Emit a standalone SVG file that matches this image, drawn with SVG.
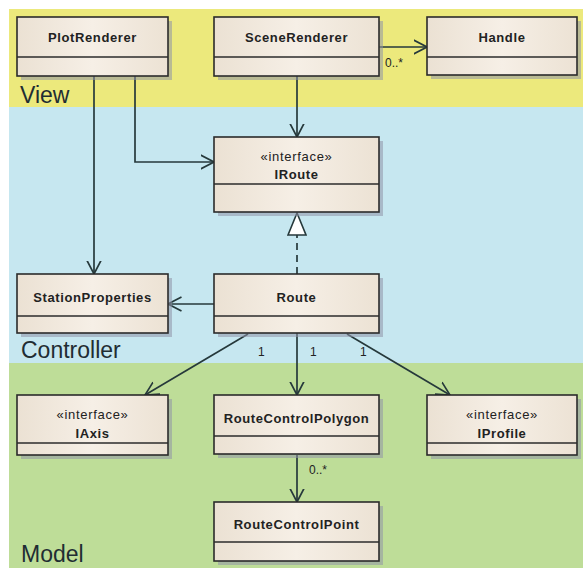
<svg xmlns="http://www.w3.org/2000/svg" width="583" height="568" viewBox="0 0 583 568">
  <style>
    .box { fill: url(#boxFill); stroke: #2b2b2b; stroke-width: 1.6; }
    .shadow { fill: #8f93a8; opacity: 0.55; }
    .div { stroke: #2b2b2b; stroke-width: 1.4; }
    .name { font-family: "Liberation Sans", Arial, sans-serif; font-weight: bold; font-size: 13px; fill: #222; text-anchor: middle; letter-spacing: 0.6px; }
    .stereo { font-family: "Liberation Sans", Arial, sans-serif; font-size: 13px; fill: #222; text-anchor: middle; letter-spacing: 0.7px; }
    .layer { font-family: "Liberation Sans", Arial, sans-serif; font-size: 23px; fill: #1f2d33; }
    .mult { font-family: "Liberation Sans", Arial, sans-serif; font-size: 12px; fill: #222; }
    .edge { stroke: #26393b; stroke-width: 1.7; fill: none; }
  </style>
  <defs>
    <linearGradient id="boxFill" x1="0" y1="0" x2="1" y2="0">
      <stop offset="0" stop-color="#ebe1d3"/>
      <stop offset="0.5" stop-color="#f6efe6"/>
      <stop offset="1" stop-color="#ece2d4"/>
    </linearGradient>
    <marker id="open" viewBox="0 0 14 16" markerWidth="14" markerHeight="16" refX="13.5" refY="8" orient="auto" markerUnits="userSpaceOnUse">
      <path d="M0,1 L13.5,8 L0,15" fill="none" stroke="#26393b" stroke-width="1.7"/>
    </marker>
    <marker id="realize" viewBox="0 0 24 20" markerWidth="24" markerHeight="20" refX="23" refY="10" orient="auto" markerUnits="userSpaceOnUse">
      <path d="M1,1 L23,10 L1,19 Z" fill="#ffffff" stroke="#26393b" stroke-width="1.6"/>
    </marker>
  </defs>

  <!-- layer bands -->
  <rect x="0" y="0" width="583" height="568" fill="#ffffff"/>
  <rect x="9" y="9" width="574" height="98" fill="#ece97c"/>
  <rect x="9" y="107" width="574" height="256" fill="#c6e7f0"/>
  <rect x="9" y="363" width="574" height="205" fill="#bedd98"/>
  <text class="layer" x="20" y="103">View</text>
  <text class="layer" x="21" y="358">Controller</text>
  <text class="layer" x="21" y="562">Model</text>

  <!-- connectors -->
  <g id="connectors">
    <path class="edge" d="M94,76 V274" marker-end="url(#open)"/>
    <path class="edge" d="M135,76 V162 H214" marker-end="url(#open)"/>
    <path class="edge" d="M379,47 H427" marker-end="url(#open)"/>
    <text class="mult" x="385" y="67">0..*</text>
    <path class="edge" d="M297,76 V137" marker-end="url(#open)"/>
    <path class="edge" d="M297,274 V213" stroke-dasharray="7,5" marker-end="url(#realize)"/>
    <path class="edge" d="M214,304 H168" marker-end="url(#open)"/>
    <path class="edge" d="M248,334 L145,395" marker-end="url(#open)"/>
    <text class="mult" x="258" y="356">1</text>
    <path class="edge" d="M297,333 V395" marker-end="url(#open)"/>
    <text class="mult" x="310" y="356">1</text>
    <path class="edge" d="M347,334 L450,395" marker-end="url(#open)"/>
    <text class="mult" x="360" y="356">1</text>
    <path class="edge" d="M297,455 V502" marker-end="url(#open)"/>
    <text class="mult" x="309" y="474">0..*</text>
  </g>

  <!-- classes -->
  <g id="PlotRenderer">
    <rect class="shadow" x="21" y="21" width="151" height="59"/>
    <rect class="box" x="17" y="17" width="151" height="59"/>
    <line class="div" x1="17" y1="57" x2="168" y2="57"/>
    <text class="name" x="92.5" y="42">PlotRenderer</text>
  </g>
  <g id="SceneRenderer">
    <rect class="shadow" x="218" y="21" width="165" height="59"/>
    <rect class="box" x="214" y="17" width="165" height="59"/>
    <line class="div" x1="214" y1="57" x2="379" y2="57"/>
    <text class="name" x="296.5" y="42">SceneRenderer</text>
  </g>
  <g id="Handle">
    <rect class="shadow" x="431" y="21" width="150" height="58"/>
    <rect class="box" x="427" y="17" width="150" height="58"/>
    <line class="div" x1="427" y1="57" x2="577" y2="57"/>
    <text class="name" x="502" y="42">Handle</text>
  </g>
  <g id="IRoute">
    <rect class="shadow" x="218" y="141" width="165" height="75"/>
    <rect class="box" x="214" y="137" width="165" height="75"/>
    <line class="div" x1="214" y1="184" x2="379" y2="184"/>
    <text class="stereo" x="296.5" y="161">«interface»</text>
    <text class="name" x="296.5" y="179">IRoute</text>
  </g>
  <g id="StationProperties">
    <rect class="shadow" x="21" y="278" width="151" height="59"/>
    <rect class="box" x="17" y="274" width="151" height="59"/>
    <line class="div" x1="17" y1="316" x2="168" y2="316"/>
    <text class="name" x="92.5" y="302">StationProperties</text>
  </g>
  <g id="Route">
    <rect class="shadow" x="218" y="278" width="165" height="59"/>
    <rect class="box" x="214" y="274" width="165" height="59"/>
    <line class="div" x1="214" y1="316" x2="379" y2="316"/>
    <text class="name" x="296.5" y="302">Route</text>
  </g>
  <g id="IAxis">
    <rect class="shadow" x="21" y="399" width="151" height="60"/>
    <rect class="box" x="17" y="395" width="151" height="60"/>
    <line class="div" x1="17" y1="443" x2="168" y2="443"/>
    <text class="stereo" x="92.5" y="419">«interface»</text>
    <text class="name" x="92.5" y="438">IAxis</text>
  </g>
  <g id="RouteControlPolygon">
    <rect class="shadow" x="218" y="399" width="165" height="59"/>
    <rect class="box" x="214" y="395" width="165" height="59"/>
    <line class="div" x1="214" y1="436" x2="379" y2="436"/>
    <text class="name" x="296.5" y="423">RouteControlPolygon</text>
  </g>
  <g id="IProfile">
    <rect class="shadow" x="431" y="399" width="150" height="60"/>
    <rect class="box" x="427" y="395" width="150" height="60"/>
    <line class="div" x1="427" y1="443" x2="577" y2="443"/>
    <text class="stereo" x="502" y="419">«interface»</text>
    <text class="name" x="502" y="438">IProfile</text>
  </g>
  <g id="RouteControlPoint">
    <rect class="shadow" x="218" y="506" width="165" height="59"/>
    <rect class="box" x="214" y="502" width="165" height="59"/>
    <line class="div" x1="214" y1="542" x2="379" y2="542"/>
    <text class="name" x="296.5" y="529">RouteControlPoint</text>
  </g>
</svg>
